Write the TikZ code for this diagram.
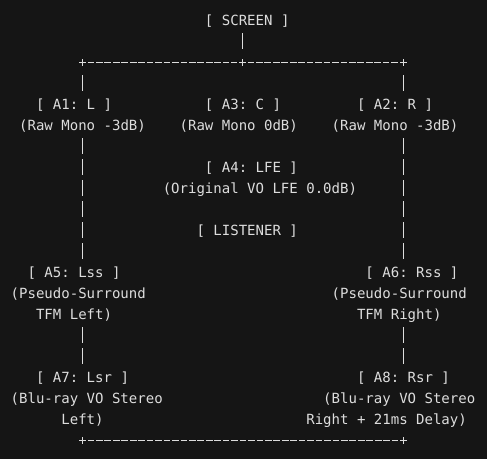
\documentclass[tikz,border=0pt]{standalone}
\usepackage{fontspec}
\newfontfamily\asciimono{DejaVu Sans Mono}
\usetikzlibrary{calc}
\definecolor{bgc}{HTML}{151515}
\definecolor{fgc}{HTML}{DDDDDD}
\begin{document}
\begin{tikzpicture}[x=1pt,y=1pt,
  lbl/.style={anchor=base west, inner sep=0pt, outer sep=0pt, text=fgc,
    font=\asciimono\fontsize{14.03pt}{16pt}\selectfont\frenchspacing},
  vbar/.style={draw=fgc, line width=1.5pt, dash pattern=on 15.3pt off 5.7pt},
  hbar/.style={draw=fgc, line width=1.5pt, dash pattern=on 6.7pt off 1.747pt},
  junction/.style={draw=fgc, line width=1.5pt}]
\fill[bgc] (0,0) rectangle (487,-459);
\useasboundingbox (0,0) rectangle (487,-459);

% labels
\node[lbl] (screen) at (204.99,-25.7) {[ SCREEN ]};
\node[lbl] (a1) at (36.04,-109.7) {[ A1: L ]};
\node[lbl] (a3) at (204.99,-109.7) {[ A3: C ]};
\node[lbl] (a2) at (357.03,-109.7) {[ A2: R ]};
\node[lbl] (a1d) at (19.15,-130.7) {(Raw Mono -3dB)};
\node[lbl] (a3d) at (179.64,-130.7) {(Raw Mono 0dB)};
\node[lbl] (a2d) at (331.69,-130.7) {(Raw Mono -3dB)};
\node[lbl] (a4) at (204.99,-172.7) {[ A4: LFE ]};
\node[lbl] (a4d) at (162.75,-193.7) {(Original VO LFE 0.0dB)};
\node[lbl] (listener) at (196.54,-235.7) {[ LISTENER ]};
\node[lbl] (a5) at (27.6,-277.7) {[ A5: Lss ]};
\node[lbl] (a6) at (365.48,-277.7) {[ A6: Rss ]};
\node[lbl] (a5d) at (10.70,-298.7) {(Pseudo-Surround};
\node[lbl] (a6d) at (331.69,-298.7) {(Pseudo-Surround};
\node[lbl] (a5e) at (36.04,-319.7) {TFM Left)};
\node[lbl] (a6e) at (357.03,-319.7) {TFM Right)};
\node[lbl] (a7) at (36.04,-382.7) {[ A7: Lsr ]};
\node[lbl] (a8) at (357.03,-382.7) {[ A8: Rsr ]};
\node[lbl] (a7d) at (10.70,-403.7) {(Blu-ray VO Stereo};
\node[lbl] (a8d) at (323.24,-403.7) {(Blu-ray VO Stereo};
\node[lbl] (a7e) at (61.39,-424.7) {Left)};
\node[lbl] (a8e) at (306.35,-424.7) {Right + 21ms Delay)};

% junctions
\coordinate (jl) at (82.5,-62.3);
\coordinate (jm) at (242.5,-62.3);
\coordinate (jr) at (403.5,-62.3);
\coordinate (bl) at (82.5,-440.3);
\coordinate (br) at (403.5,-440.3);
\foreach \j in {jl,jm,jr,bl,br}
  \draw[junction] ($(\j)+(-3.2,0)$) -- ($(\j)+(3.2,0)$)
                  ($(\j)+(0,-3.5)$) -- ($(\j)+(0,3.5)$);

% connectors
\draw[vbar] ($(screen.base -| jm)+(0,-7.5)$) -- ($(jm)+(0,13.8)$);
\draw[hbar] ($(jl)+(5.1,0)$) -- ($(jm)+(-5.1,0)$);
\draw[hbar] ($(jm)+(5.1,0)$) -- ($(jr)+(-5.1,0)$);
\draw[vbar] ($(jl)+(0,-12.9)$) -- ($(a1.base -| jl)+(0,19.2)$);
\draw[vbar] ($(jr)+(0,-12.9)$) -- ($(a2.base -| jr)+(0,19.2)$);
\draw[vbar] ($(a1d.base -| jl)+(0,-7.5)$) -- ($(a5.base -| jl)+(0,19.2)$);
\draw[vbar] ($(a2d.base -| jr)+(0,-7.5)$) -- ($(a6.base -| jr)+(0,19.2)$);
\draw[vbar] ($(a5e.base -| jl)+(0,-7.5)$) -- ($(a7.base -| jl)+(0,19.2)$);
\draw[vbar] ($(a6e.base -| jr)+(0,-7.5)$) -- ($(a8.base -| jr)+(0,19.2)$);
\draw[hbar] ($(bl)+(5.1,0)$) -- ($(br)+(-5.1,0)$);
\end{tikzpicture}
\end{document}
